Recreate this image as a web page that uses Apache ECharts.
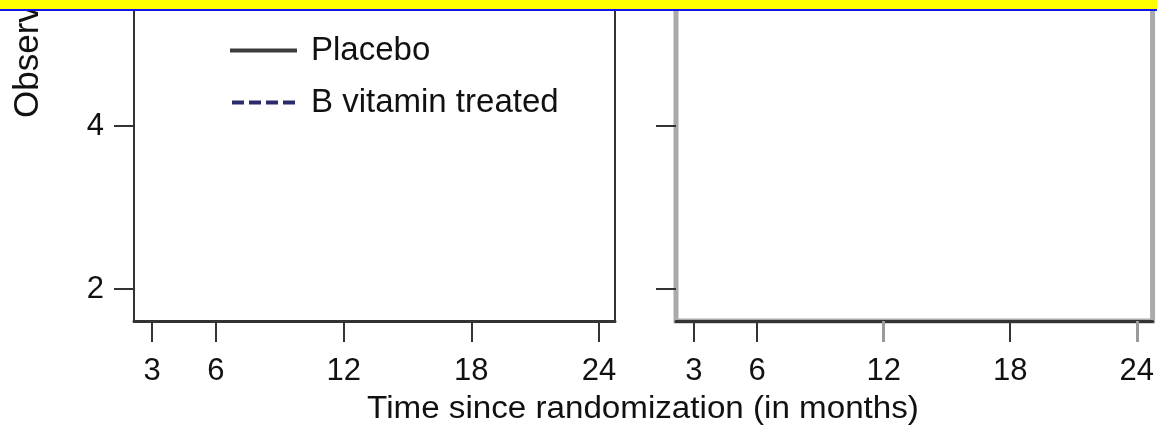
<!DOCTYPE html>
<html><head><meta charset="utf-8">
<script src="https://cdn.jsdelivr.net/npm/echarts@6/dist/echarts.min.js"></script>
<style>html,body{margin:0;padding:0;background:#fff}#c{width:1157px;height:432px}</style>
</head><body><div id="c"></div>
<script>
// ---- data ----
const seriesNames = ['Placebo', 'B vitamin treated'];
const placeboLeft = [];
const treatedLeft = [];
const placeboRight = [];
const treatedRight = [];
const xTicks = [3, 6, 12, 18, 24];
const yTicks = [2, 4];
const xRange = [2.15, 24.75];
const yRange = [1.61, 5.5];
const xTitle = 'Time since randomization (in months)';
const yTitle = 'Observed';

// ---- chart ----
const FONT = '"Liberation Sans", Arial, sans-serif';
const chart = echarts.init(document.getElementById('c'), null, {renderer: 'canvas'});
const dark = '#333';
const lbl = {fontSize: 31, fontFamily: FONT, color: '#111'};
const placeboColor = '#3c3c3c';
const treatedColor = '#2b2b6b';

const grayTicks = [12, 24];
const rightDarkTicks = xTicks.filter(v => grayTicks.indexOf(v) < 0);

chart.setOption({
  animation: false,
  backgroundColor: '#fff',
  grid: [
    {left: 134, top: 4, width: 481, height: 317, show: true, borderColor: dark, borderWidth: 2, backgroundColor: 'transparent'},
    {left: 676, top: 4, width: 479, height: 317, show: true, borderColor: '#aaa', borderWidth: 5, backgroundColor: 'transparent'}
  ],
  legend: {
    data: [
      {name: seriesNames[0], icon: 'rect', itemStyle: {color: placeboColor}},
      {name: seriesNames[1], icon: 'path://M0,0h12v4h-12z M17,0h12v4h-12z M34,0h12v4h-12z M51,0h12v4h-12z', itemStyle: {color: treatedColor}}
    ],
    orient: 'vertical',
    left: 225, top: 29,
    itemWidth: 67, itemHeight: 4, itemGap: 19,
    textStyle: {fontSize: 33, fontFamily: FONT, color: '#111', lineHeight: 32, padding: [0, 0, 0, 9]}
  },
  xAxis: [
    {gridIndex: 0, type: 'value', min: xRange[0], max: xRange[1],
     axisLine: {show: true, lineStyle: {color: dark, width: 3}},
     axisTick: {show: true, customValues: xTicks, length: 21, lineStyle: {color: dark, width: 2}},
     axisLabel: Object.assign({customValues: xTicks, margin: 35}, lbl),
     splitLine: {show: false}},
    {gridIndex: 1, type: 'value', min: xRange[0], max: xRange[1],
     axisLine: {show: true, lineStyle: {color: dark, width: 3}},
     axisTick: {show: true, customValues: rightDarkTicks, length: 21, lineStyle: {color: dark, width: 2}},
     axisLabel: Object.assign({customValues: xTicks, margin: 35}, lbl),
     splitLine: {show: false}},
    {gridIndex: 1, type: 'value', min: xRange[0], max: xRange[1], position: 'bottom',
     axisLine: {show: false},
     axisTick: {show: true, customValues: grayTicks, length: 21, lineStyle: {color: '#9a9a9a', width: 3}},
     axisLabel: {show: false},
     splitLine: {show: false}}
  ],
  yAxis: [
    {gridIndex: 0, type: 'value', min: yRange[0], max: yRange[1],
     axisLine: {show: true, lineStyle: {color: dark, width: 2}},
     axisTick: {show: true, customValues: yTicks, length: 20, lineStyle: {color: dark, width: 2}},
     axisLabel: Object.assign({customValues: yTicks, margin: 30}, lbl),
     splitLine: {show: false}},
    {gridIndex: 1, type: 'value', min: yRange[0], max: yRange[1],
     axisLine: {show: false},
     axisTick: {show: true, customValues: yTicks, length: 20, lineStyle: {color: dark, width: 2}},
     axisLabel: {show: false},
     splitLine: {show: false}}
  ],
  series: [
    {name: seriesNames[0], type: 'line', xAxisIndex: 0, yAxisIndex: 0, data: placeboLeft, symbol: 'none',
     lineStyle: {color: placeboColor, width: 3, type: 'solid'}, itemStyle: {color: placeboColor}},
    {name: seriesNames[1], type: 'line', xAxisIndex: 0, yAxisIndex: 0, data: treatedLeft, symbol: 'none',
     lineStyle: {color: treatedColor, width: 4, type: [12, 5]}, itemStyle: {color: treatedColor}},
    {name: seriesNames[0], type: 'line', xAxisIndex: 1, yAxisIndex: 1, data: placeboRight, symbol: 'none',
     lineStyle: {color: placeboColor, width: 3, type: 'solid'}, itemStyle: {color: placeboColor}},
    {name: seriesNames[1], type: 'line', xAxisIndex: 1, yAxisIndex: 1, data: treatedRight, symbol: 'none',
     lineStyle: {color: treatedColor, width: 4, type: [12, 5]}, itemStyle: {color: treatedColor}}
  ],
  graphic: [
    {type: 'text', x: 643, y: 409, z: 10, scaleX: 1.07, originX: 0,
     style: {text: xTitle, font: '31px ' + FONT, fill: '#111', textAlign: 'center', textVerticalAlign: 'middle'}},
    {type: 'text', x: 28, y: 118, rotation: Math.PI / 2, z: 10,
     style: {text: yTitle, font: '35px ' + FONT, fill: '#111', textAlign: 'left', textVerticalAlign: 'middle'}},
    {type: 'rect', z: 100, shape: {x: 0, y: 0, width: 1157, height: 9}, style: {fill: '#ffff00'}},
    {type: 'rect', z: 100, shape: {x: 0, y: 9, width: 1157, height: 2}, style: {fill: '#1414f0'}}
  ]
});
</script>
</body></html>
